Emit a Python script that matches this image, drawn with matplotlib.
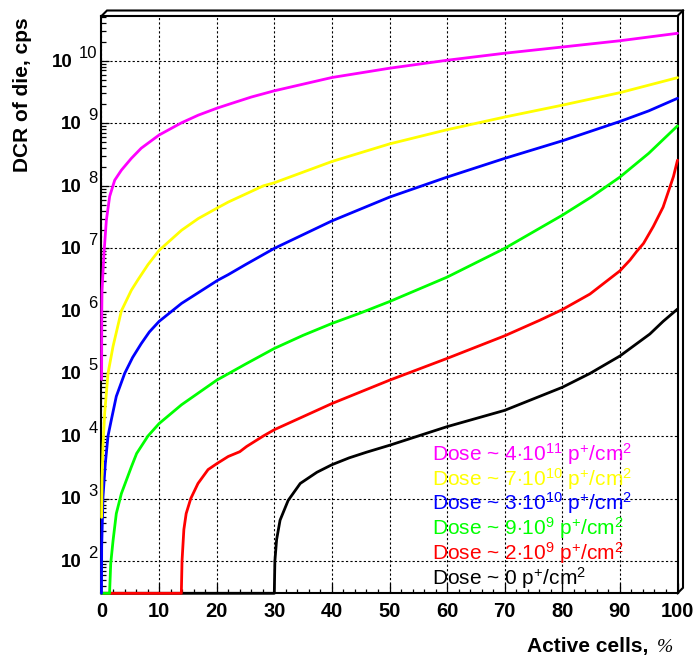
import numpy as np
import matplotlib
matplotlib.use("Agg")
import matplotlib.pyplot as plt
from matplotlib.lines import Line2D
from matplotlib.ticker import LogLocator, NullFormatter, MultipleLocator

plt.rcParams['font.family'] = ['Liberation Sans', 'DejaVu Sans']
plt.rcParams['mathtext.fontset'] = 'custom'
plt.rcParams['mathtext.rm'] = 'Liberation Sans'
plt.rcParams['mathtext.it'] = 'Liberation Sans:italic'
plt.rcParams['mathtext.bf'] = 'Liberation Sans:bold'

# ---------------- data (Active cells %, DCR cps) ----------------
x_mag = [0.02, 0.05, 0.09, 0.43, 0.84, 1.42, 2.29, 3.45, 5.18, 6.9, 10, 13.9, 16.8, 20, 22, 26,
         30, 40, 50, 60, 70, 80, 90, 100]
y_mag = [8.0e4, 1.0e6, 2.1e6, 8.3e6, 2.8e7, 6.8e7, 1.23e8, 1.78e8, 2.75e8, 4.0e8, 6.5e8,
         1.02e9, 1.35e9, 1.74e9, 2.0e9, 2.63e9, 3.31e9, 5.4e9, 7.6e9, 1.02e10, 1.32e10,
         1.66e10, 2.09e10, 2.75e10]

x_yel = [0.02, 0.09, 0.26, 0.55, 1.13, 2.0, 3.45, 5.18, 6.34, 8.07, 10, 13.9, 16.8, 20, 22,
         28.1, 30, 40, 50, 60, 70, 80, 90, 100]
y_yel = [5.0e2, 2.0e3, 6.8e3, 2.3e4, 1.0e5, 2.7e5, 1.0e6, 2.14e6, 3.16e6, 5.5e6, 9.3e6,
         1.95e7, 3.0e7, 4.37e7, 5.5e7, 1.0e8, 1.12e8, 2.45e8, 4.68e8, 7.9e8, 1.26e9, 1.95e9,
         3.09e9, 5.37e9]

x_blu = [0, 0.03, 0.26, 0.66, 1.13, 1.7, 2.57, 4.02, 5.4, 6.9, 8.3, 10, 13.9, 20.2, 22, 25,
         30, 40, 50, 60, 70, 80, 90, 95, 100]
y_blu = [0, 1.7e2, 1.07e3, 3.6e3, 1.0e4, 1.8e4, 4.3e4, 1.0e5, 1.8e5, 3.0e5, 4.6e5, 6.8e5,
         1.32e6, 3.1e6, 3.8e6, 5.5e6, 1.0e7, 2.75e7, 6.6e7, 1.38e8, 2.75e8, 5.25e8, 1.07e9,
         1.58e9, 2.51e9]

x_grn = [0, 1.4, 1.45, 1.6, 2.0, 2.57, 3.45, 5.18, 6.1, 8.07, 10, 13.9, 20, 25, 30, 35, 40,
         45, 50, 60, 70, 80, 85, 90, 95, 100]
y_grn = [0, 0, 40, 91, 2.1e2, 5.75e2, 1.2e3, 3.2e3, 5.25e3, 1.0e4, 1.58e4, 3.16e4, 7.8e4,
         1.41e5, 2.51e5, 4.07e5, 6.3e5, 9.3e5, 1.41e6, 3.47e6, 1.0e7, 3.39e7, 6.6e7, 1.38e8,
         3.31e8, 9.1e8]

x_red = [0, 13.86, 13.98, 14.3, 14.7, 15.5, 16.75, 18.5, 20, 22, 24, 25.2, 28.1, 30, 40, 50,
         60, 70, 76.1, 80, 84.8, 90, 91.75, 92.9, 94.1, 95.8, 97.5, 99.3, 100]
y_red = [0, 0, 1.0e2, 3.2e2, 5.75e2, 1.0e3, 1.74e3, 2.9e3, 3.6e3, 4.7e3, 5.6e3, 6.8e3, 1.0e4,
         1.26e4, 3.3e4, 7.8e4, 1.74e5, 4.0e5, 7.1e5, 1.05e6, 1.86e6, 4.37e6, 6.5e6, 8.9e6,
         1.2e7, 2.24e7, 4.57e7, 1.41e8, 2.57e8]

x_blk = [0, 30, 30.1, 30.4, 31, 32.4, 34.5, 37.4, 40, 43, 46, 50, 60, 70, 80, 84.8, 90, 95.2,
         97.5, 100]
y_blk = [0, 0, 1.0e2, 2.2e2, 4.5e2, 9.3e2, 1.74e3, 2.63e3, 3.47e3, 4.47e3, 5.5e3, 7.1e3,
         1.41e4, 2.57e4, 6.0e4, 1.0e5, 1.9e5, 4.27e5, 6.8e5, 1.07e6]

legend_labels = [
    r"Dose ~ 4$\cdot$10$^{11}$ p$^{+}$/cm$^{2}$",
    r"Dose ~ 7$\cdot$10$^{10}$ p$^{+}$/cm$^{2}$",
    r"Dose ~ 3$\cdot$10$^{10}$ p$^{+}$/cm$^{2}$",
    r"Dose ~ 9$\cdot$10$^{9}$ p$^{+}$/cm$^{2}$",
    r"Dose ~ 2$\cdot$10$^{9}$ p$^{+}$/cm$^{2}$",
    r"Dose ~ 0 p$^{+}$/cm$^{2}$",
]
colors = ['#ff00ff', '#ffff00', '#0000ff', '#00ff00', '#ff0000', '#000000']

x_ticks = [0, 10, 20, 30, 40, 50, 60, 70, 80, 90, 100]
x_tick_labels = ['0', '10', '20', '30', '40', '50', '60', '70', '80', '90', '100']
y_decades = [2, 3, 4, 5, 6, 7, 8, 9, 10]

YMIN, YMAX = 30.5, 5.2e10

# ---------------- figure ----------------
W, H = 698, 655
fig = plt.figure(figsize=(W / 100, H / 100), dpi=100)
L, R, T, B = 101.5, 677.5, 16.0, 593.3
ax = fig.add_axes([L / W, 1 - B / H, (R - L) / W, (B - T) / H])

series = [(x_blk, y_blk, colors[5]), (x_red, y_red, colors[4]), (x_grn, y_grn, colors[3]),
          (x_blu, y_blu, colors[2]), (x_yel, y_yel, colors[1]), (x_mag, y_mag, colors[0])]
for xs, ys, c in series:
    ax.plot(xs, np.clip(np.array(ys, dtype=float), YMIN, None), color=c, lw=2.0,
            clip_on=False, zorder=3, solid_joinstyle='round', solid_capstyle='round')

ax.set_yscale('log')
ax.set_xlim(0, 100)
ax.set_ylim(YMIN, YMAX)

ax.set_xticks(x_ticks)
ax.set_xticklabels(x_tick_labels, fontweight='bold', fontsize=14.5)
ax.xaxis.set_minor_locator(MultipleLocator(2))
ax.yaxis.set_major_locator(LogLocator(base=10, numticks=30))
ax.yaxis.set_minor_locator(LogLocator(base=10, subs=np.arange(2, 10), numticks=30))
ax.yaxis.set_major_formatter(NullFormatter())
ax.yaxis.set_minor_formatter(NullFormatter())

ax.tick_params(axis='x', which='major', direction='in', length=7, width=0.9, pad=6,
               top=False, bottom=True)
ax.tick_params(axis='x', which='minor', direction='in', length=3.2, width=0.9, top=False)
ax.tick_params(axis='y', which='major', direction='in', length=6, width=0.9, right=False)
ax.tick_params(axis='y', which='minor', direction='in', length=3.5, width=0.9, right=False)

ax.grid(True, which='major', color='black', linestyle=(0, (2, 2)), linewidth=0.8)
for s in ax.spines.values():
    s.set_linewidth(1.5)

# y tick labels in ROOT style: bold "10" with regular exponent
for d in y_decades:
    e = ax.annotate(str(d), xy=(0, 10.0 ** d), xycoords=('axes fraction', 'data'),
                    xytext=(-4 * 0.72, 3 * 0.72), textcoords='offset points',
                    ha='right', va='baseline', fontsize=12)
    ax.annotate('10', xy=(0, 0), xycoords=e, xytext=(-6.7 * 0.72, -9.8 * 0.72),
                textcoords='offset points', ha='right', va='bottom', fontsize=13.5,
                fontweight='bold')

# 3D frame border (top and right strip)
dd = 5.5
px = [L, L + dd, R + dd, R + dd, R]
py = [T, T - dd, T - dd, B - dd, B]
fig.add_artist(Line2D([p / W for p in px], [1 - p / H for p in py], transform=fig.transFigure,
                      color='black', lw=1.5, solid_joinstyle='miter'))
fig.add_artist(Line2D([R / W, (R + dd) / W], [1 - T / H, 1 - (T - dd) / H],
                      transform=fig.transFigure, color='black', lw=1.5))

# axis titles
fig.text(23 / W, 1 - 17 / H, 'DCR of die, cps', rotation=90, ha='center', va='top',
         fontsize=15, fontweight='bold')
fig.text(648 / W, 1 - 652 / H, 'Active cells,', ha='right', va='baseline', fontsize=15,
         fontweight='bold')
fig.text(657 / W, 1 - 652 / H, '%', ha='left', va='baseline', fontsize=14,
         family='Liberation Serif', style='italic')

# legend (coloured text only)
baselines = [461, 485.5, 510, 535, 560, 585]
for lab, c, yb in zip(legend_labels, colors, baselines):
    fig.text(432 / W, 1 - yb / H, lab, color=c, ha='left', va='baseline', fontsize=15)

fig.savefig('out.png', dpi=100)
